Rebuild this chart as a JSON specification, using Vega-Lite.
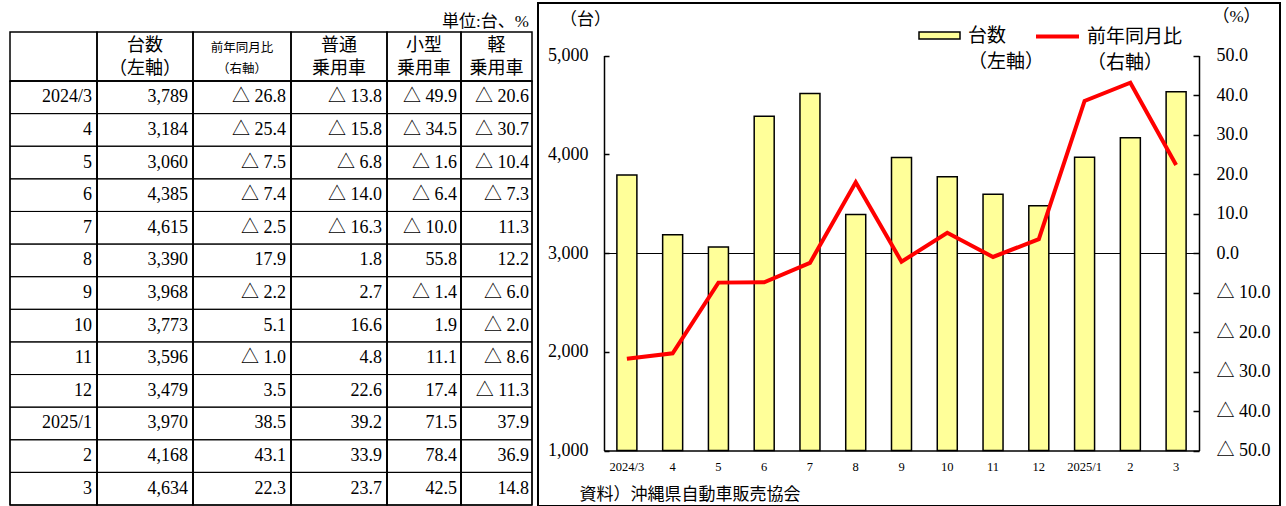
{
  "$schema": "https://vega.github.io/schema/vega-lite/v6.json",
  "padding": {"left": 8, "top": 2, "right": 0, "bottom": 0},
  "config": {
    "font": "Liberation Serif, Noto Sans CJK JP",
    "view": {"stroke": null},
    "locale": {"number": {"decimal": ".", "thousands": ",", "grouping": [3], "currency": ["", ""], "minus": "△ "}},
    "style": {"guide-label": {"lineHeight": 26}},
    "concat": {"spacing": 0}
  },
  "datasets": {
    "sales": [
      {"month": "2024/3", "units": 3789, "yoy": -26.8, "futsu": -13.8, "kogata": -49.9, "kei": -20.6},
      {"month": "4", "units": 3184, "yoy": -25.4, "futsu": -15.8, "kogata": -34.5, "kei": -30.7},
      {"month": "5", "units": 3060, "yoy": -7.5, "futsu": -6.8, "kogata": -1.6, "kei": -10.4},
      {"month": "6", "units": 4385, "yoy": -7.4, "futsu": -14.0, "kogata": -6.4, "kei": -7.3},
      {"month": "7", "units": 4615, "yoy": -2.5, "futsu": -16.3, "kogata": -10.0, "kei": 11.3},
      {"month": "8", "units": 3390, "yoy": 17.9, "futsu": 1.8, "kogata": 55.8, "kei": 12.2},
      {"month": "9", "units": 3968, "yoy": -2.2, "futsu": 2.7, "kogata": -1.4, "kei": -6.0},
      {"month": "10", "units": 3773, "yoy": 5.1, "futsu": 16.6, "kogata": 1.9, "kei": -2.0},
      {"month": "11", "units": 3596, "yoy": -1.0, "futsu": 4.8, "kogata": 11.1, "kei": -8.6},
      {"month": "12", "units": 3479, "yoy": 3.5, "futsu": 22.6, "kogata": 17.4, "kei": -11.3},
      {"month": "2025/1", "units": 3970, "yoy": 38.5, "futsu": 39.2, "kogata": 71.5, "kei": 37.9},
      {"month": "2", "units": 4168, "yoy": 43.1, "futsu": 33.9, "kogata": 78.4, "kei": 36.9},
      {"month": "3", "units": 4634, "yoy": 22.3, "futsu": 23.7, "kogata": 42.5, "kei": 14.8}
    ]
  },
  "spacing": 3,
  "hconcat": [
    {
      "spacing": 0,
      "vconcat": [
        {
          "width": 522, "height": 28,
          "data": {"values": [{}]},
          "mark": {"type": "text", "text": "単位:台、%", "align": "right", "baseline": "middle", "dx": -3, "dy": 5, "fontSize": 17},
          "encoding": {"x": {"value": "width"}}
        },
        {
          "columns": 6,
          "spacing": 0,
          "bounds": "flush",
          "align": "each",
          "concat": [
            {"width": 87, "height": 49, "data": {"values": [{}]}, "view": {"stroke": "black", "strokeWidth": 1.5},
             "mark": {"type": "text", "text": "", "fontSize": 17}},
            {"width": 96, "height": 49, "data": {"values": [{}]}, "view": {"stroke": "black", "strokeWidth": 1.5},
             "mark": {"type": "text", "text": ["台数", "（左軸）"], "fontSize": 18, "lineHeight": 23, "align": "center", "baseline": "middle", "dy": -11}},
            {"width": 98, "height": 49, "data": {"values": [{}]}, "view": {"stroke": "black", "strokeWidth": 1.5},
             "mark": {"type": "text", "text": ["前年同月比", "（右軸）"], "fontSize": 12.5, "lineHeight": 21, "align": "center", "baseline": "middle", "dy": -9}},
            {"width": 96, "height": 49, "data": {"values": [{}]}, "view": {"stroke": "black", "strokeWidth": 1.5},
             "mark": {"type": "text", "text": ["普通", "乗用車"], "fontSize": 18, "lineHeight": 23, "align": "center", "baseline": "middle", "dy": -11}},
            {"width": 74, "height": 49, "data": {"values": [{}]}, "view": {"stroke": "black", "strokeWidth": 1.5},
             "mark": {"type": "text", "text": ["小型", "乗用車"], "fontSize": 18, "lineHeight": 23, "align": "center", "baseline": "middle", "dy": -11}},
            {"width": 71, "height": 49, "data": {"values": [{}]}, "view": {"stroke": "black", "strokeWidth": 1.5},
             "mark": {"type": "text", "text": ["軽", "乗用車"], "fontSize": 18, "lineHeight": 23, "align": "center", "baseline": "middle", "dy": -11}},
            {"width": 87, "height": 424, "data": {"name": "sales"}, "view": {"stroke": "black", "strokeWidth": 1.5},
             "encoding": {"y": {"field": "month", "type": "ordinal", "scale": {"domain": ["2024/3","4","5","6","7","8","9","10","11","12","2025/1","2","3"], "paddingInner": 0, "paddingOuter": 0}, "axis": null}},
             "layer": [
               {"mark": {"type": "rect", "fill": "transparent", "stroke": "black", "strokeWidth": 1}},
               {"mark": {"type": "text", "align": "right", "baseline": "middle", "dx": -5, "fontSize": 18},
                "encoding": {"x": {"value": "width"}, "text": {"field": "month", "type": "nominal"}}}
             ]},
            {"width": 96, "height": 424, "data": {"name": "sales"}, "view": {"stroke": "black", "strokeWidth": 1.5},
             "encoding": {"y": {"field": "month", "type": "ordinal", "scale": {"domain": ["2024/3","4","5","6","7","8","9","10","11","12","2025/1","2","3"], "paddingInner": 0, "paddingOuter": 0}, "axis": null}},
             "layer": [
               {"mark": {"type": "rect", "fill": "transparent", "stroke": "black", "strokeWidth": 1}},
               {"mark": {"type": "text", "align": "right", "baseline": "middle", "dx": -5, "fontSize": 18},
                "encoding": {"x": {"value": "width"}, "text": {"field": "units", "type": "quantitative", "format": ",d"}}}
             ]},
            {"width": 98, "height": 424, "data": {"name": "sales"}, "view": {"stroke": "black", "strokeWidth": 1.5},
             "encoding": {"y": {"field": "month", "type": "ordinal", "scale": {"domain": ["2024/3","4","5","6","7","8","9","10","11","12","2025/1","2","3"], "paddingInner": 0, "paddingOuter": 0}, "axis": null}},
             "layer": [
               {"mark": {"type": "rect", "fill": "transparent", "stroke": "black", "strokeWidth": 1}},
               {"mark": {"type": "text", "align": "right", "baseline": "middle", "dx": -5, "fontSize": 18},
                "encoding": {"x": {"value": "width"}, "text": {"field": "yoy", "type": "quantitative", "format": ".1f"}}}
             ]},
            {"width": 96, "height": 424, "data": {"name": "sales"}, "view": {"stroke": "black", "strokeWidth": 1.5},
             "encoding": {"y": {"field": "month", "type": "ordinal", "scale": {"domain": ["2024/3","4","5","6","7","8","9","10","11","12","2025/1","2","3"], "paddingInner": 0, "paddingOuter": 0}, "axis": null}},
             "layer": [
               {"mark": {"type": "rect", "fill": "transparent", "stroke": "black", "strokeWidth": 1}},
               {"mark": {"type": "text", "align": "right", "baseline": "middle", "dx": -5, "fontSize": 18},
                "encoding": {"x": {"value": "width"}, "text": {"field": "futsu", "type": "quantitative", "format": ".1f"}}}
             ]},
            {"width": 74, "height": 424, "data": {"name": "sales"}, "view": {"stroke": "black", "strokeWidth": 1.5},
             "encoding": {"y": {"field": "month", "type": "ordinal", "scale": {"domain": ["2024/3","4","5","6","7","8","9","10","11","12","2025/1","2","3"], "paddingInner": 0, "paddingOuter": 0}, "axis": null}},
             "layer": [
               {"mark": {"type": "rect", "fill": "transparent", "stroke": "black", "strokeWidth": 1}},
               {"mark": {"type": "text", "align": "right", "baseline": "middle", "dx": -4, "fontSize": 18},
                "encoding": {"x": {"value": "width"}, "text": {"field": "kogata", "type": "quantitative", "format": ".1f"}}}
             ]},
            {"width": 71, "height": 424, "data": {"name": "sales"}, "view": {"stroke": "black", "strokeWidth": 1.5},
             "encoding": {"y": {"field": "month", "type": "ordinal", "scale": {"domain": ["2024/3","4","5","6","7","8","9","10","11","12","2025/1","2","3"], "paddingInner": 0, "paddingOuter": 0}, "axis": null}},
             "layer": [
               {"mark": {"type": "rect", "fill": "transparent", "stroke": "black", "strokeWidth": 1}},
               {"mark": {"type": "text", "align": "right", "baseline": "middle", "dx": -3, "fontSize": 18},
                "encoding": {"x": {"value": "width"}, "text": {"field": "kei", "type": "quantitative", "format": ".1f"}}}
             ]}
          ]
        }
      ]
    },
    {
      "width": 742, "height": 503,
      "data": {"name": "sales"},
      "view": {"stroke": "black", "strokeWidth": 2},
      "layer": [
        {
          "mark": {"type": "bar", "stroke": "black", "strokeWidth": 1.5},
          "encoding": {
            "x": {"field": "month", "type": "ordinal",
                  "scale": {"domain": ["2024/3","4","5","6","7","8","9","10","11","12","2025/1","2","3"], "range": [66, 661], "paddingInner": 0.563, "paddingOuter": 0.2815},
                  "axis": {"orient": "bottom", "offset": -55.5, "domain": true, "domainColor": "black", "domainWidth": 1.5, "ticks": false, "labelAngle": 0, "labelFontSize": 12.5, "labelPadding": 10, "labelColor": "black",
                           "title": "資料）沖縄県自動車販売協会", "titleX": 41, "titleY": 43.5, "titleAlign": "left", "titleAnchor": "start", "titleBaseline": "middle",
                           "titleFontSize": 17, "titleFontWeight": "normal", "titleColor": "black", "titleFont": "Noto Sans CJK JP"}},
            "y": {"field": "units", "type": "quantitative",
                  "scale": {"domain": [1000, 5000], "range": [447.5, 52.5], "nice": false, "zero": false},
                  "axis": {"orient": "left", "offset": -66, "values": [1000, 2000, 3000, 4000, 5000], "format": ",d", "domain": true, "domainColor": "black", "domainWidth": 1.5,
                           "grid": true, "gridColor": {"condition": {"test": "datum.value === 3000", "value": "black"}, "value": "transparent"}, "gridWidth": 1,
                           "tickSize": -5, "tickColor": "black", "tickWidth": 1.5, "labelPadding": 21, "labelFontSize": 18, "labelColor": "black",
                           "title": "（台）", "titleAngle": 0, "titleX": -19, "titleY": 16, "titleAlign": "center", "titleBaseline": "middle",
                           "titleFontSize": 17, "titleFontWeight": "normal", "titleColor": "black"}},
            "y2": {"datum": 1000},
            "fill": {"datum": "台数（左軸）", "type": "nominal", "scale": {"range": ["#ffff99"]},
                     "legend": {"orient": "none", "legendX": 908, "legendY": 11, "title": null, "padding": 0,
                                "symbolType": "M-1,-0.17H1V0.17H-1Z", "symbolSize": 1681, "symbolStrokeColor": "black", "symbolStrokeWidth": 1.5,
                                "labelExpr": "['台数', '（左軸）']", "labelFontSize": 19, "labelFont": "Noto Sans CJK JP", "labelColor": "black", "labelOffset": 7}}
          }
        },
        {
          "mark": {"type": "line", "strokeWidth": 4},
          "encoding": {
            "x": {"field": "month", "type": "ordinal"},
            "y": {"field": "yoy", "type": "quantitative",
                  "scale": {"domain": [-50, 50], "range": [447.5, 52.5], "nice": false, "zero": false},
                  "axis": {"orient": "right", "offset": -81, "values": [-50, -40, -30, -20, -10, 0, 10, 20, 30, 40, 50], "format": ".1f", "domain": true, "domainColor": "black", "domainWidth": 1.5, "grid": false,
                           "tickSize": -6, "tickColor": "black", "tickWidth": 1.5, "labelPadding": 23, "labelFontSize": 18, "labelColor": "black", "labelAlign": "left",
                           "title": "（%）", "titleAngle": 0, "titleX": 37, "titleY": 13, "titleAlign": "center", "titleBaseline": "middle",
                           "titleFontSize": 17, "titleFontWeight": "normal", "titleColor": "black"}},
            "stroke": {"datum": "前年同月比（右軸）", "type": "nominal", "scale": {"range": ["#ff0000"]},
                       "legend": {"orient": "none", "legendX": 1024, "legendY": 10, "title": null, "padding": 0,
                                  "symbolType": "stroke", "symbolSize": 1849, "symbolStrokeWidth": 4,
                                  "labelExpr": "['前年同月比', '（右軸）']", "labelFontSize": 19, "labelFont": "Noto Sans CJK JP", "labelColor": "black", "labelOffset": 6}}
          }
        }
      ],
      "resolve": {"scale": {"y": "independent"}}
    }
  ]
}
